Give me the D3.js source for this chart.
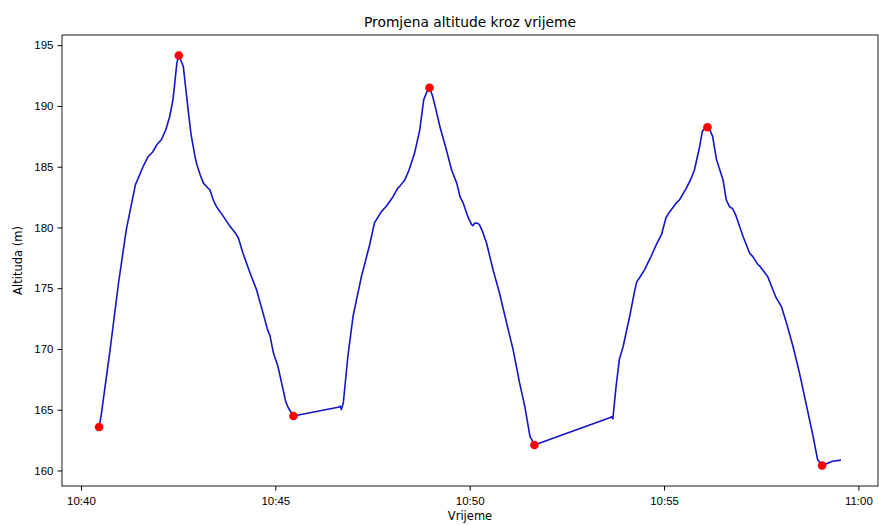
<!DOCTYPE html>
<html>
<head>
<meta charset="utf-8">
<script src="https://cdn.jsdelivr.net/npm/d3@7"></script>
<style>
  body { margin: 0; background: #fff; }
  svg { font-family: "DejaVu Sans", sans-serif; }
  .tick text { font-size: 11.5px; fill: #000; }
  .tick line { stroke: #000; }
  .domain { stroke: none; }
</style>
</head>
<body>
<div id="chart"></div>
<script>
// Data
// ================================
var times = [
  "10:40:28","10:40:31","10:40:45","10:40:58","10:41:10","10:41:24","10:41:36","10:41:44","10:41:51","10:41:57",
  "10:42:04","10:42:11","10:42:17","10:42:22","10:42:25","10:42:28","10:42:31","10:42:38","10:42:42","10:42:46",
  "10:42:50","10:42:56","10:42:59","10:43:04","10:43:09","10:43:16","10:43:19","10:43:24","10:43:29","10:43:39",
  "10:43:50","10:43:58","10:44:03","10:44:10","10:44:21","10:44:31","10:44:41","10:44:48","10:44:52","10:44:57",
  "10:45:04","10:45:12","10:45:16","10:45:20","10:45:28",
  "10:46:37","10:46:40","10:46:42","10:46:45","10:46:52","10:47:00","10:47:06","10:47:13","10:47:21","10:47:26",
  "10:47:33","10:47:44","10:47:51","10:48:02","10:48:09","10:48:12","10:48:20","10:48:26","10:48:30","10:48:35",
  "10:48:43","10:48:46","10:48:49","10:48:53","10:48:58","10:49:03","10:49:08","10:49:14","10:49:24","10:49:32",
  "10:49:40","10:49:45","10:49:50","10:49:57","10:50:03","10:50:05","10:50:08","10:50:12","10:50:15","10:50:20",
  "10:50:26","10:50:36","10:50:46","10:50:57","10:51:07","10:51:17","10:51:25","10:51:33","10:51:40",
  "10:53:36","10:53:39","10:53:41","10:53:46","10:53:51","10:53:57","10:54:07","10:54:15","10:54:18","10:54:22",
  "10:54:30","10:54:40","10:54:48","10:54:56","10:55:03","10:55:09","10:55:19","10:55:24","10:55:34","10:55:41",
  "10:55:47","10:55:55","10:55:59","10:56:02","10:56:07","10:56:10","10:56:15","10:56:21","10:56:26","10:56:31",
  "10:56:36","10:56:41","10:56:46","10:56:51","10:57:02","10:57:12","10:57:17","10:57:25","10:57:27","10:57:38",
  "10:57:40","10:57:45","10:57:50","10:57:53","10:58:01","10:58:09","10:58:19","10:58:29","10:58:39","10:58:50",
  "10:58:57","10:59:04","10:59:20","10:59:33"
];

var altitude = [
  163.58,164.46,169.95,175.43,179.82,183.5,185.02,185.84,186.23,186.8,
  187.21,188.04,189.13,190.5,191.98,193.52,194.15,193.24,191.33,189.41,
  187.63,185.84,185.16,184.34,183.65,183.24,183.1,182.28,181.73,180.97,
  180.09,179.57,179.13,177.9,176.25,174.88,172.97,171.59,171.04,169.68,
  168.58,166.66,165.67,165.16,164.48,
  165.2,165.29,165.02,165.57,169.4,172.69,174.22,175.98,177.62,178.66,
  180.37,181.32,181.73,182.55,183.24,183.38,183.93,184.67,185.3,186.12,
  188.04,189.27,190.5,191.05,191.49,190.78,189.68,188.31,186.39,184.75,
  183.65,182.55,182.01,180.91,180.23,180.14,180.37,180.35,180.23,179.65,
  178.72,176.53,174.61,172.14,169.95,167.21,165.29,162.82,162.1,
  164.33,164.42,164.25,166.93,169.13,170.22,172.69,174.88,175.54,175.84,
  176.53,177.62,178.58,179.4,180.8,181.32,182.01,182.28,183.19,183.93,
  184.75,186.66,187.9,188.1,188.24,188.1,187.49,185.57,184.75,183.93,
  182.28,181.71,181.54,180.97,179.26,177.9,177.6,176.94,176.86,176.11,
  175.95,175.29,174.61,174.22,173.51,172.14,170.22,168.03,165.57,162.82,
  160.9,160.41,160.76,160.85
];

// local highs and lows (red markers)
var markerTimes = ["10:40:28","10:42:31","10:45:28","10:48:58","10:51:40","10:56:07","10:59:04"];

var yTicks = [160, 165, 170, 175, 180, 185, 190, 195];

// Set up the chart
// ================================
var svgWidth = 879;
var svgHeight = 525;

var margin = { top: 35, right: 1, bottom: 39, left: 62 };

var width = svgWidth - margin.left - margin.right;
var height = svgHeight - margin.top - margin.bottom;

var parseTime = d3.timeParse("%H:%M:%S");

var points = times.map(function(t, i) {
  return { time: parseTime(t), alt: altitude[i] };
});

var markers = markerTimes.map(function(t) {
  return { time: parseTime(t), alt: altitude[times.indexOf(t)] };
});

var svg = d3.select("#chart")
  .append("svg")
  .attr("width", svgWidth)
  .attr("height", svgHeight);

var chartGroup = svg.append("g")
  .attr("transform", `translate(${margin.left}, ${margin.top})`);

// 5% padding like matplotlib
var tExt = d3.extent(points, d => d.time);
var tPad = (tExt[1] - tExt[0]) * 0.05;
var aExt = d3.extent(points, d => d.alt);
var aPad = (aExt[1] - aExt[0]) * 0.05;

var xTimeScale = d3.scaleTime()
  .domain([new Date(+tExt[0] - tPad), new Date(+tExt[1] + tPad)])
  .range([0, width]);

var yLinearScale = d3.scaleLinear()
  .domain([aExt[0] - aPad, aExt[1] + aPad])
  .range([height, 0]);

var bottomAxis = d3.axisBottom(xTimeScale)
  .ticks(d3.timeMinute.every(5))
  .tickFormat(d3.timeFormat("%H:%M"))
  .tickSizeInner(4.5)
  .tickSizeOuter(0)
  .tickPadding(4);

var leftAxis = d3.axisLeft(yLinearScale)
  .tickValues(yTicks)
  .tickSizeInner(4.5)
  .tickSizeOuter(0)
  .tickPadding(4);

chartGroup.append("g")
  .attr("transform", `translate(0, ${height})`)
  .call(bottomAxis)
  .selectAll(".tick text")
  .attr("dy", "0.95em");

chartGroup.append("g")
  .call(leftAxis);

// frame
chartGroup.append("rect")
  .attr("width", width)
  .attr("height", height)
  .attr("fill", "none")
  .attr("stroke", "#000")
  .attr("stroke-width", 0.9);

var line = d3.line()
  .x(d => xTimeScale(d.time))
  .y(d => yLinearScale(d.alt));

chartGroup.append("path")
  .datum(points)
  .attr("d", line)
  .attr("fill", "none")
  .attr("stroke", "#1414c8")
  .attr("stroke-width", 1.6)
  .attr("stroke-linejoin", "round");

chartGroup.selectAll("circle")
  .data(markers)
  .enter()
  .append("circle")
  .attr("cx", d => xTimeScale(d.time))
  .attr("cy", d => yLinearScale(d.alt))
  .attr("r", 4.3)
  .attr("fill", "#ff0000");

// Labels
svg.append("text")
  .attr("x", margin.left + width / 2)
  .attr("y", 27)
  .attr("text-anchor", "middle")
  .attr("font-size", "13.8px")
  .text("Promjena altitude kroz vrijeme");

svg.append("text")
  .attr("x", margin.left + width / 2)
  .attr("y", 520)
  .attr("text-anchor", "middle")
  .attr("font-size", "11.5px")
  .text("Vrijeme");

svg.append("text")
  .attr("transform", `translate(22, ${margin.top + height / 2}) rotate(-90)`)
  .attr("text-anchor", "middle")
  .attr("font-size", "11.5px")
  .text("Altituda (m)");
</script>
</body>
</html>
